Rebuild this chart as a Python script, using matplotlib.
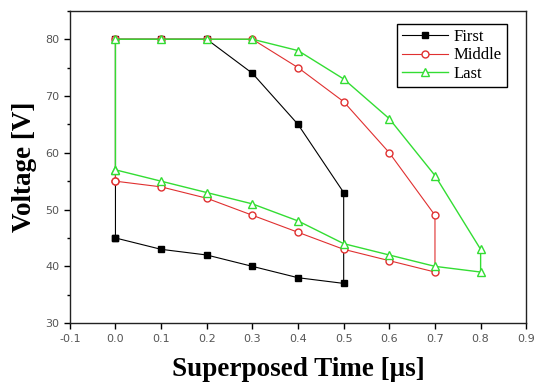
import numpy as np
import matplotlib
matplotlib.use("Agg")
import matplotlib.pyplot as plt
from matplotlib.ticker import MultipleLocator, FormatStrFormatter

# Data (closed loops)
first_t = [0.0, 0.0, 0.1, 0.2, 0.3, 0.4, 0.5, 0.5, 0.4, 0.3, 0.2, 0.1, 0.0]
first_v = [45, 80, 80, 80, 74, 65, 53, 37, 38, 40, 42, 43, 45]

middle_t = [0.0, 0.0, 0.1, 0.2, 0.3, 0.4, 0.5, 0.6, 0.7, 0.7, 0.6, 0.5, 0.4, 0.3, 0.2, 0.1, 0.0]
middle_v = [55, 80, 80, 80, 80, 75, 69, 60, 49, 39, 41, 43, 46, 49, 52, 54, 55]

last_t = [0.0, 0.0, 0.1, 0.2, 0.3, 0.4, 0.5, 0.6, 0.7, 0.8, 0.8, 0.7, 0.6, 0.5, 0.4, 0.3, 0.2, 0.1, 0.0]
last_v = [57, 80, 80, 80, 80, 78, 73, 66, 56, 43, 39, 40, 42, 44, 48, 51, 53, 55, 57]

fig = plt.figure(figsize=(5.37, 3.87), dpi=100)
ax = fig.add_axes([0.130, 0.165, 0.850, 0.807])

ax.plot(first_t, first_v, color="black", lw=0.8, marker="s", ms=5,
        mfc="black", mec="black", label="First")
ax.plot(middle_t, middle_v, color="#e03030", lw=0.8, marker="o", ms=5,
        mfc="white", mec="#e03030", label="Middle")
ax.plot(last_t, last_v, color="#33dd33", lw=1.0, marker="^", ms=6,
        mfc="white", mec="#33dd33", label="Last")

ax.set_xlim(-0.1, 0.9)
ax.set_ylim(30, 85)
ax.set_xticks(np.round(np.arange(-0.1, 0.95, 0.1), 1))
ax.xaxis.set_major_formatter(FormatStrFormatter("%.1f"))
ax.yaxis.set_major_locator(MultipleLocator(10))
ax.yaxis.set_minor_locator(MultipleLocator(5))
ax.tick_params(direction="out", length=4, width=1, labelsize=8, labelcolor="#555555")
ax.tick_params(which="minor", direction="out", length=2.5, width=1)
for s in ax.spines.values():
    s.set_linewidth(1.0)
    s.set_color("#222222")

ax.set_xlabel("Superposed Time [\u03bcs]", family="Liberation Serif",
              fontweight="bold", fontsize=19.5, labelpad=10)
ax.set_ylabel("Voltage [V]", family="Liberation Serif",
              fontweight="bold", fontsize=19.5, labelpad=6)

leg = ax.legend(loc="upper right", bbox_to_anchor=(0.975, 0.985), fancybox=False,
                edgecolor="black", framealpha=1, prop={"family": "Liberation Serif", "size": 12},
                handlelength=2.8, borderpad=0.3, labelspacing=0.15, handletextpad=0.3)
leg.get_frame().set_linewidth(1.0)

fig.savefig("out.png", dpi=100)
